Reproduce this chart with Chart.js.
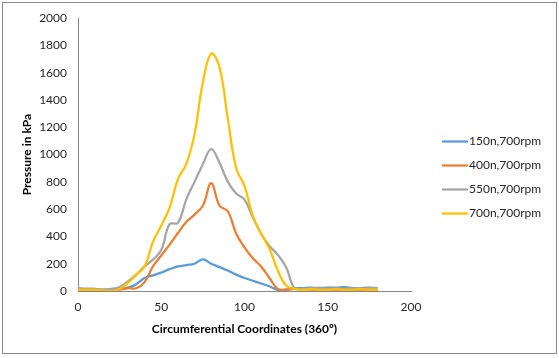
<!DOCTYPE html>
<html>
<head>
<meta charset="utf-8">
<script src="https://cdn.jsdelivr.net/npm/chart.js@4/dist/chart.umd.min.js"></script>
<style>
  html, body { margin: 0; padding: 0; background: #fff; }
  #wrap { width: 559px; height: 358px; }
</style>
</head>
<body>
<div id="wrap"><canvas id="myChart" width="559" height="358"></canvas></div>
<script>
// circumferential coordinate, degrees
const angles = [0, 5, 10, 15, 20, 25, 30, 35, 40, 45, 50, 55, 60, 65, 70, 75, 80, 85, 90,
                95, 100, 105, 110, 115, 120, 125, 130, 135, 140, 145, 150, 155, 160, 165, 170, 175, 180];

const p150 = [20, 15, 15, 10, 10, 15, 25, 50, 95, 115, 135, 160, 180, 190, 200, 232, 200, 175, 150,
              120, 95, 75, 55, 35, 8, 10, 20, 22, 25, 22, 25, 25, 28, 22, 20, 25, 22];
const p400 = [10, 10, 10, 5, 5, 10, 20, 20, 65, 180, 260, 340, 425, 505, 560, 625, 790, 625, 585,
              420, 320, 240, 180, 95, 15, 10, 15, 12, 10, 10, 10, 10, 10, 10, 10, 10, 10];
const p550 = [20, 15, 15, 10, 15, 30, 70, 120, 180, 230, 300, 490, 500, 670, 800, 930, 1040, 940, 800,
              715, 670, 540, 420, 330, 265, 175, 20, 15, 20, 20, 15, 20, 15, 20, 15, 20, 20];
const p700 = [10, 10, 10, 5, 0, 15, 60, 120, 180, 360, 480, 610, 820, 930, 1150, 1530, 1740, 1640, 1260,
              900, 770, 550, 420, 310, 150, 40, 15, 10, 15, 10, 10, 15, 10, 10, 15, 10, 12];

const seriesNames = ['150n,700rpm', '400n,700rpm', '550n,700rpm', '700n,700rpm'];
const seriesColors = ['#5B9BD5', '#ED7D31', '#A5A5A5', '#FFC000'];
const seriesValues = [p150, p400, p550, p700];

const xTitle = 'Circumferential Coordinates (360\u00BA)';
const yTitle = 'Pressure in kPa';

const FONT = 'Lato, "Open Sans", sans-serif';

const datasets = seriesValues.map((vals, i) => ({
    label: seriesNames[i],
    data: vals.map((v, j) => ({ x: angles[j], y: v })),
    borderColor: seriesColors[i],
    backgroundColor: seriesColors[i],
    borderWidth: 2.25,
    pointRadius: 0,
    tension: 0.4,
    fill: false,
    order: 4 - i
}));

// white background, outer border, and the legend on the right
const frame = {
    id: 'frame',
    beforeDraw(chart) {
        const ctx = chart.ctx;
        ctx.save();
        ctx.fillStyle = '#fff';
        ctx.fillRect(0, 0, chart.width, chart.height);
        ctx.strokeStyle = '#898989';
        ctx.lineWidth = 1;
        ctx.strokeRect(2.5, 2.5, 554, 351);
        ctx.restore();
    },
    afterDraw(chart) {
        const ctx = chart.ctx;
        ctx.save();
        ctx.font = '12px ' + FONT;
        ctx.textBaseline = 'middle';
        ctx.textAlign = 'left';
        seriesNames.forEach((name, i) => {
            const y = 141.5 + i * 24;
            ctx.strokeStyle = seriesColors[i];
            ctx.lineWidth = 2.25;
            ctx.beginPath();
            ctx.moveTo(442, y);
            ctx.lineTo(468, y);
            ctx.stroke();
            ctx.fillStyle = '#262626';
            ctx.fillText(name, 469, y);
        });
        ctx.restore();
    }
};

const ctx = document.getElementById('myChart').getContext('2d');
const myChart = new Chart(ctx, {
    type: 'line',
    data: { datasets: datasets },
    plugins: [frame],
    options: {
        responsive: false,
        animation: false,
        layout: { padding: { top: 16, right: 148, bottom: 0, left: 0 } },
        plugins: {
            legend: { display: false },
            tooltip: { enabled: false }
        },
        scales: {
            x: {
                type: 'linear',
                min: 0,
                max: 200,
                ticks: { stepSize: 50, padding: 9, color: '#262626', font: { family: FONT, size: 12 },
                         callback: v => String(v) },
                grid: { display: false, drawTicks: false },
                border: { display: true, color: '#868686', width: 1 },
                title: { display: true, text: xTitle, color: '#000', padding: { top: 0, bottom: 22 },
                         font: { family: FONT, size: 12, weight: 'bold' } },
                afterFit(scale) { scale.height = 67; }
            },
            y: {
                min: 0,
                max: 2000,
                ticks: { stepSize: 200, padding: 11, color: '#262626', font: { family: FONT, size: 12 },
                         callback: v => String(v) },
                grid: { display: false, drawTicks: false },
                border: { display: true, color: '#868686', width: 1 },
                title: { display: true, text: yTitle, color: '#000', padding: { top: 20, bottom: 0 },
                         font: { family: FONT, size: 12, weight: 'bold' } },
                afterFit(scale) { scale.width = 78; }
            }
        }
    }
});
</script>
</body>
</html>
